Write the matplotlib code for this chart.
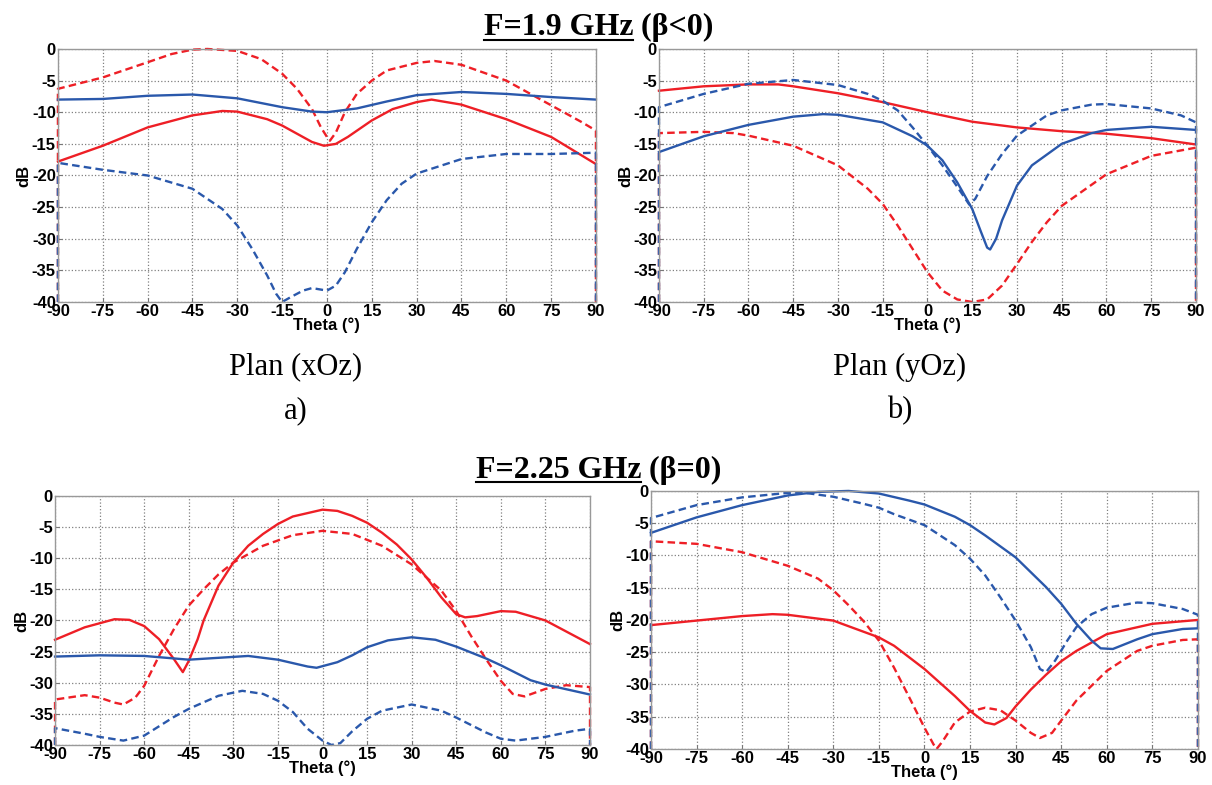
import numpy as np
import matplotlib
matplotlib.use("Agg")
from matplotlib import pyplot as plt
from matplotlib.lines import Line2D

RED = '#ee1f26'
BLUE = '#2a58ab'

# ---- panel a : F=1.9 GHz, plan xOz
a_rd_t = [-90, -90, -75, -60, -52, -45, -40, -30, -22, -15, -10, -5, -2, 0, 1, 3, 6, 10, 15, 20, 30, 36, 45, 60, 75, 85, 90, 90]
a_rd_v = [-40, -6.3, -4.5, -2.1, -0.8, -0.1, 0, -0.3, -1.6, -3.9, -6.3, -9.5, -12.4, -13.9, -14.5, -13.2, -10.0, -7.1, -5.0, -3.4, -2.2, -1.9, -2.5, -5.0, -8.9, -11.5, -12.9, -40]
a_rs_t = [-90, -75, -60, -45, -35, -30, -20, -15, -10, -5, -1, 3, 7, 15, 22, 30, 35, 45, 60, 75, 90]
a_rs_v = [-17.8, -15.3, -12.4, -10.5, -9.8, -9.9, -11.1, -12.1, -13.4, -14.7, -15.3, -15.0, -13.9, -11.3, -9.5, -8.4, -8.0, -8.8, -11.1, -13.9, -18.2]
a_bs_t = [-90, -75, -60, -45, -30, -15, -5, 0, 10, 20, 30, 45, 60, 75, 90]
a_bs_v = [-8.0, -7.9, -7.4, -7.2, -7.8, -9.2, -9.9, -10.0, -9.4, -8.3, -7.3, -6.8, -7.1, -7.6, -8.0]
a_bd_t = [-90, -90, -75, -60, -45, -35, -30, -25, -20, -17, -15, -12, -8, -5, 0, 3, 6, 10, 15, 20, 25, 30, 45, 60, 75, 90, 90]
a_bd_v = [-40, -18.0, -19.1, -20.0, -22.1, -25.3, -27.9, -31.6, -35.8, -38.7, -40.0, -39.2, -38.2, -37.8, -38.2, -37.4, -35.3, -31.6, -27.4, -23.9, -21.3, -19.7, -17.4, -16.6, -16.6, -16.4, -40]

# ---- panel b : F=1.9 GHz, plan yOz
b_rs_t = [-90, -75, -60, -50, -45, -30, -15, 0, 15, 30, 45, 60, 75, 90]
b_rs_v = [-6.6, -5.9, -5.6, -5.6, -5.9, -7.0, -8.4, -10.0, -11.5, -12.4, -13.0, -13.4, -14.1, -15.1]
b_bd_t = [-90, -90, -75, -60, -45, -30, -20, -15, -10, -5, 0, 5, 10, 14, 16, 20, 25, 30, 40, 45, 55, 60, 75, 85, 90, 90]
b_bd_v = [-40, -9.2, -7.1, -5.5, -4.9, -5.7, -7.1, -8.2, -9.7, -12.4, -15.3, -18.4, -21.8, -24.6, -23.7, -20.1, -16.6, -13.7, -10.5, -9.7, -8.8, -8.7, -9.4, -10.5, -11.6, -40]
b_bs_t = [-90, -75, -60, -45, -35, -30, -15, -5, 0, 5, 10, 15, 18, 20, 21, 23, 25, 30, 35, 45, 55, 60, 75, 90]
b_bs_v = [-16.3, -13.8, -12.0, -10.7, -10.3, -10.4, -11.6, -13.8, -15.3, -17.6, -21.1, -25.3, -29.0, -31.4, -31.7, -30.0, -27.1, -21.6, -18.4, -15.0, -13.3, -12.8, -12.3, -12.8]
b_rd_t = [-90, -90, -75, -65, -60, -45, -30, -20, -15, -10, -5, 0, 5, 10, 15, 20, 25, 30, 35, 40, 45, 60, 75, 90, 90]
b_rd_v = [-40, -13.3, -13.1, -13.3, -13.7, -15.3, -18.4, -22.1, -24.5, -27.9, -31.6, -35.3, -38.2, -39.6, -40.0, -39.6, -37.4, -34.0, -30.5, -27.4, -24.8, -19.8, -16.9, -15.6, -40]

# ---- panel c : F=2.25 GHz, plan xOz
c_rs_t = [-90, -80, -70, -65, -60, -55, -50, -47, -45, -42, -40, -35, -30, -25, -20, -15, -10, 0, 5, 10, 15, 20, 25, 30, 35, 40, 45, 48, 52, 60, 65, 75, 90]
c_rs_v = [-23.1, -21.1, -19.8, -19.9, -20.9, -23.0, -26.2, -28.3, -26.5, -23.0, -20.0, -14.4, -10.7, -8.0, -6.1, -4.5, -3.3, -2.2, -2.4, -3.2, -4.3, -5.9, -7.8, -10.2, -13.1, -16.3, -19.0, -19.5, -19.3, -18.5, -18.6, -20.0, -23.8]
c_rd_t = [-90, -90, -80, -75, -70, -67, -63, -60, -55, -50, -45, -40, -35, -30, -20, -10, 0, 10, 20, 30, 40, 45, 50, 55, 60, 64, 68, 75, 82, 90, 90]
c_rd_v = [-40, -32.7, -32.0, -32.4, -33.2, -33.5, -32.4, -30.5, -25.7, -21.4, -17.6, -15.0, -12.6, -10.7, -8.0, -6.3, -5.6, -6.1, -8.0, -11.0, -15.2, -18.5, -22.5, -26.2, -29.7, -31.8, -32.2, -31.0, -30.4, -30.7, -40]
c_bs_t = [-90, -75, -60, -50, -45, -35, -25, -15, -5, -2, 5, 10, 15, 22, 30, 38, 45, 55, 60, 70, 75, 90]
c_bs_v = [-25.8, -25.6, -25.7, -26.1, -26.3, -26.0, -25.7, -26.3, -27.4, -27.6, -26.7, -25.6, -24.3, -23.2, -22.7, -23.1, -24.2, -26.1, -27.2, -29.6, -30.3, -31.9]
c_bd_t = [-90, -90, -80, -75, -67, -60, -50, -45, -35, -27, -20, -15, -10, -5, 0, 3, 6, 10, 15, 20, 30, 40, 45, 55, 60, 65, 75, 85, 90, 90]
c_bd_v = [-40, -37.3, -38.2, -38.7, -39.3, -38.5, -35.5, -34.2, -32.1, -31.3, -31.8, -32.9, -34.7, -37.4, -39.3, -40.0, -39.7, -37.8, -35.8, -34.5, -33.5, -34.5, -35.6, -38.0, -39.0, -39.3, -38.7, -37.7, -37.4, -40]

# ---- panel d : F=2.25 GHz, plan yOz
d_bd_t = [-90, -90, -75, -60, -45, -40, -30, -20, -15, -10, 0, 10, 15, 20, 25, 30, 35, 38, 40, 43, 47, 50, 55, 60, 70, 75, 85, 90, 90]
d_bd_v = [-40, -4.2, -2.2, -1.0, -0.3, -0.25, -0.9, -2.0, -2.6, -3.6, -5.3, -8.4, -10.5, -13.1, -16.5, -20.1, -24.2, -27.6, -28.1, -26.3, -23.2, -21.1, -19.1, -18.1, -17.3, -17.4, -18.3, -19.2, -40]
d_bs_t = [-90, -75, -60, -45, -35, -25, -15, -5, 0, 10, 15, 20, 30, 40, 45, 50, 55, 58, 62, 70, 75, 85, 90]
d_bs_v = [-6.5, -4.1, -2.2, -0.7, -0.15, 0.0, -0.4, -1.5, -2.1, -4.0, -5.3, -6.9, -10.3, -14.9, -17.5, -20.6, -23.2, -24.4, -24.5, -23.0, -22.2, -21.4, -21.3]
d_rd_t = [-90, -90, -75, -60, -45, -35, -30, -25, -20, -15, -10, -5, 0, 3, 4, 6, 10, 15, 20, 25, 30, 35, 38, 42, 45, 50, 60, 70, 75, 85, 90, 90]
d_rd_v = [-40, -7.8, -8.2, -9.5, -11.6, -13.6, -15.4, -17.7, -20.2, -23.2, -27.4, -32.0, -36.7, -39.3, -40.0, -38.8, -35.9, -34.2, -33.6, -34.0, -35.6, -37.5, -38.3, -37.5, -35.6, -32.5, -27.9, -24.8, -24.0, -23.1, -23.0, -40]
d_rs_t = [-90, -75, -60, -50, -45, -30, -15, -10, 0, 10, 15, 20, 23, 27, 30, 35, 40, 45, 50, 60, 75, 90]
d_rs_v = [-20.8, -20.1, -19.4, -19.1, -19.2, -20.1, -22.7, -24.0, -27.6, -31.8, -34.1, -35.9, -36.2, -35.2, -33.4, -30.8, -28.5, -26.4, -24.8, -22.2, -20.6, -20.0]

xticks = np.arange(-90, 91, 15)
yticks = np.arange(-40, 1, 5)

fig = plt.figure(figsize=(12.12, 7.85), dpi=100)

tick_font = dict(family='Liberation Sans', weight='bold', size=12)


def setup(ax):
    ax.set_xlim(-90, 90)
    ax.set_ylim(-40, 0)
    ax.set_xticks(xticks)
    ax.set_yticks(yticks)
    ax.set_xticklabels([str(t) for t in xticks], fontdict=tick_font)
    ax.set_yticklabels([str(t) for t in yticks], fontdict=tick_font)
    ax.tick_params(direction='in', length=3, pad=1.5, color='#777777')
    ax.grid(True, linestyle=':', color='#808080', linewidth=0.9)
    for s in ax.spines.values():
        s.set_color('#999999')
        s.set_linewidth(1.0)
    ax.set_xlabel('Theta (°)', fontdict=tick_font, labelpad=-1)
    ax.set_ylabel('dB', fontdict=tick_font, labelpad=0)


def curve(ax, t, v, color, dashed):
    ls = (0, (3.2, 1.8)) if dashed else '-'
    ax.plot(t, v, color=color, lw=1.7, ls=ls, clip_on=False,
            solid_joinstyle='round', dash_joinstyle='round')


axa = fig.add_axes([0.0478, 0.6153, 0.4439, 0.3223])
axb = fig.add_axes([0.5437, 0.6153, 0.4431, 0.3223])
axc = fig.add_axes([0.0454, 0.0510, 0.4414, 0.3172])
axd = fig.add_axes([0.5371, 0.0459, 0.4513, 0.3287])

for ax in (axa, axb, axc, axd):
    setup(ax)

curve(axa, a_rd_t, a_rd_v, RED, True)
curve(axa, a_rs_t, a_rs_v, RED, False)
curve(axa, a_bs_t, a_bs_v, BLUE, False)
curve(axa, a_bd_t, a_bd_v, BLUE, True)

curve(axb, b_rd_t, b_rd_v, RED, True)
curve(axb, b_rs_t, b_rs_v, RED, False)
curve(axb, b_bs_t, b_bs_v, BLUE, False)
curve(axb, b_bd_t, b_bd_v, BLUE, True)

curve(axc, c_rd_t, c_rd_v, RED, True)
curve(axc, c_rs_t, c_rs_v, RED, False)
curve(axc, c_bs_t, c_bs_v, BLUE, False)
curve(axc, c_bd_t, c_bd_v, BLUE, True)

curve(axd, d_rd_t, d_rd_v, RED, True)
curve(axd, d_rs_t, d_rs_v, RED, False)
curve(axd, d_bs_t, d_bs_v, BLUE, False)
curve(axd, d_bd_t, d_bd_v, BLUE, True)

# titles with underlined first part
title_font = dict(family='Liberation Serif', weight='bold', size=23)
fig.canvas.draw()
renderer = fig.canvas.get_renderer()
W = fig.bbox.width


def title(xc, ybase, yline, part1, part2):
    t1 = fig.text(0, ybase, part1, va='baseline', ha='left', **title_font)
    t2 = fig.text(0, ybase, ' ' + part2, va='baseline', ha='left', **title_font)
    w1 = t1.get_window_extent(renderer).width / W
    w2 = t2.get_window_extent(renderer).width / W
    x0 = xc - (w1 + w2) / 2
    t1.set_x(x0)
    t2.set_x(x0 + w1)
    fig.add_artist(Line2D([x0, x0 + w1], [yline, yline], color='black', lw=1.5,
                          transform=fig.transFigure))


title(0.494, 0.9554, 0.9490, 'F=1.9 GHz', '(β<0)')
title(0.494, 0.3910, 0.3860, 'F=2.25 GHz', '(β=0)')

sub_font = dict(family='Liberation Serif', size=22)
fig.text(0.2442, 0.5325, 'Plan (xOz)', ha='center', va='center', **sub_font)
fig.text(0.7426, 0.5325, 'Plan (yOz)', ha='center', va='center', **sub_font)
fig.text(0.2442, 0.4764, 'a)', ha='center', va='center', **sub_font)
fig.text(0.7426, 0.4764, 'b)', ha='center', va='center', **sub_font)

fig.savefig('out.png', dpi=100)
